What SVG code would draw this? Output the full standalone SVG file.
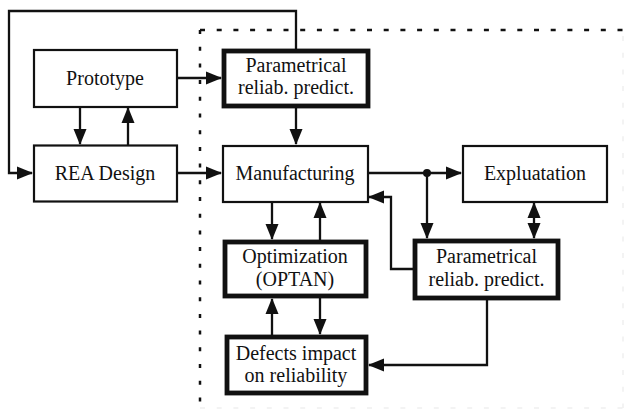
<svg xmlns="http://www.w3.org/2000/svg" width="626" height="410" viewBox="0 0 626 410">
<style>
.box{fill:#fff;stroke:#111;stroke-width:2.2}
.thick{fill:#fff;stroke:#111;stroke-width:4.8}
text{font-family:'Liberation Serif','Times New Roman','DejaVu Serif',serif;font-size:20px;fill:#111;text-anchor:middle}
.c{fill:none;stroke:#111;stroke-width:2.3}
</style>
<defs>
<marker id="ah" markerUnits="userSpaceOnUse" markerWidth="16" markerHeight="14" refX="15" refY="6.5" orient="auto-start-reverse" viewBox="0 0 16 13">
<path d="M0,0 L16,6.5 L0,13 z" fill="#111"/>
</marker>
</defs>
<rect width="626" height="410" fill="#fff"/>
<g id="frame">
<line x1="200" y1="30" x2="626" y2="30" stroke="#111" stroke-width="2.5" stroke-dasharray="5 11.7"/>
<line x1="200" y1="30" x2="200" y2="404" stroke="#111" stroke-width="2.5" stroke-dasharray="4 12.7"/>
<line x1="623" y1="36" x2="623" y2="408" stroke="#f0f0f0" stroke-width="1.5" stroke-dasharray="5 11.7"/>
<line x1="200" y1="408" x2="623" y2="408" stroke="#f0f0f0" stroke-width="1.5" stroke-dasharray="5 11.7"/>
</g>
<g id="connectors">
<path class="c" d="M296,49 V11 H9 V173 H32" marker-end="url(#ah)"/>
<path class="c" d="M177,78 H221" marker-end="url(#ah)"/>
<path class="c" d="M80,107 V144" marker-end="url(#ah)"/>
<path class="c" d="M128,145 V108" marker-end="url(#ah)"/>
<path class="c" d="M296,108 V144" marker-end="url(#ah)"/>
<path class="c" d="M177,173 H221" marker-end="url(#ah)"/>
<path class="c" d="M368,173 H461" marker-end="url(#ah)"/>
<circle cx="427" cy="173" r="4" fill="#111"/>
<path class="c" d="M427,173 V238" marker-end="url(#ah)"/>
<path class="c" d="M534,203 V238" marker-start="url(#ah)" marker-end="url(#ah)"/>
<path class="c" d="M413,269 H391 V197 H369" marker-end="url(#ah)"/>
<path class="c" d="M487,300 V365 H369" marker-end="url(#ah)"/>
<path class="c" d="M272,202 V239" marker-end="url(#ah)"/>
<path class="c" d="M320,240 V203" marker-end="url(#ah)"/>
<path class="c" d="M272,335 V299" marker-end="url(#ah)"/>
<path class="c" d="M320,298 V334" marker-end="url(#ah)"/>
</g>
<g id="prototype">
<rect class="box" x="34" y="50" width="143" height="57"/>
<text x="105" y="85">Prototype</text>
</g>
<g id="rea-design">
<rect class="box" x="34" y="145.5" width="143" height="56"/>
<text x="105" y="180">REA Design</text>
</g>
<g id="param-top">
<rect class="thick" x="224" y="51" width="144" height="55"/>
<text x="296" y="72">Parametrical</text>
<text x="296" y="94">reliab. predict.</text>
</g>
<g id="manufacturing">
<rect class="box" x="223" y="146" width="145" height="56"/>
<text x="295" y="180">Manufacturing</text>
</g>
<g id="expluatation">
<rect class="box" x="463" y="146" width="144" height="56"/>
<text x="535" y="180">Expluatation</text>
</g>
<g id="param-right">
<rect class="thick" x="415" y="241" width="143" height="57"/>
<text x="486.5" y="263">Parametrical</text>
<text x="486.5" y="286">reliab. predict.</text>
</g>
<g id="optimization">
<rect class="thick" x="225" y="242" width="141" height="54"/>
<text x="295" y="263">Optimization</text>
<text x="295" y="286">(OPTAN)</text>
</g>
<g id="defects">
<rect class="thick" x="227" y="337" width="139" height="56"/>
<text x="296" y="360">Defects impact</text>
<text x="296" y="382">on reliability</text>
</g>
</svg>
